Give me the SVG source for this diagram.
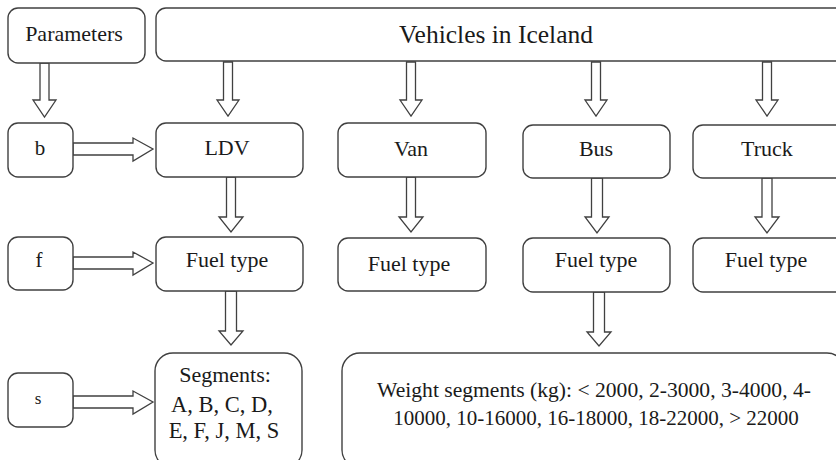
<svg xmlns="http://www.w3.org/2000/svg" width="836" height="460" viewBox="0 0 836 460">
<style>
.box{fill:#fff;stroke:#404040;stroke-width:1.4}
.arr{fill:#fff;stroke:#404040;stroke-width:1.3;stroke-linejoin:miter}
.t{font-family:'Liberation Serif', serif;fill:#1a1a1a;text-anchor:middle;font-size:22px}
</style>
<rect width="836" height="460" fill="#fff"/>
<g id="connectors">
<path class="arr" d="M40,63 V100 H33 L44.5,117 L56,100 H49 V63 Z"/>
<path class="arr" d="M223.5,62 V100 H217 L228,116 L239,100 H232.5 V62 Z"/>
<path class="arr" d="M406.5,62 V100 H400 L411,116 L422,100 H415.5 V62 Z"/>
<path class="arr" d="M591.5,62 V100 H585 L596,116 L607,100 H600.5 V62 Z"/>
<path class="arr" d="M762.5,62 V100 H756 L767,116 L778,100 H771.5 V62 Z"/>
<path class="arr" d="M226.5,177 V217 H219 L231,232 L243,217 H235.5 V177 Z"/>
<path class="arr" d="M406.5,177 V217 H399 L411,232 L423,217 H415.5 V177 Z"/>
<path class="arr" d="M591.5,178 V217 H585 L597,233 L609,217 H602.5 V178 Z"/>
<path class="arr" d="M762,178 V217 H755 L767,233 L779,217 H772 V178 Z"/>
<path class="arr" d="M225.5,291 V331 H219 L231,345 L243,331 H236.5 V291 Z"/>
<path class="arr" d="M593.5,292 V332 H587 L599,346 L611,332 H604.5 V292 Z"/>
<path class="arr" d="M73,143 H133 V138 L153,149 L133,161 V155 H73 Z"/>
<path class="arr" d="M73,257 H133 V252 L153,263 L133,275 V269 H73 Z"/>
<path class="arr" d="M73,396 H133 V391 L153,402 L133,414 V408 H73 Z"/>
</g>
<g id="parameters"><rect class="box" x="8" y="8" width="137" height="55" rx="10"/><text class="t" x="74" y="41">Parameters</text></g>
<g id="vehicles"><rect class="box" x="156" y="8" width="690" height="53" rx="10"/><text class="t" x="496" y="43" style="font-size:25.5px">Vehicles in Iceland</text></g>
<g id="b"><rect class="box" x="8" y="123" width="65" height="54" rx="10"/><text class="t" x="40" y="155" style="font-size:21px">b</text></g>
<g id="ldv"><rect class="box" x="156" y="123" width="147" height="54" rx="10"/><text class="t" x="227" y="155">LDV</text></g>
<g id="van"><rect class="box" x="338" y="123" width="148" height="54" rx="10"/><text class="t" x="411" y="156">Van</text></g>
<g id="bus"><rect class="box" x="523" y="125" width="147" height="53" rx="10"/><text class="t" x="596" y="156">Bus</text></g>
<g id="truck"><rect class="box" x="693" y="125" width="153" height="53" rx="10"/><text class="t" x="767" y="156">Truck</text></g>
<g id="f"><rect class="box" x="8" y="237" width="65" height="53" rx="10"/><text class="t" x="39" y="267" style="font-size:21px">f</text></g>
<g id="ldv-fuel"><rect class="box" x="156" y="237" width="147" height="54" rx="10"/><text class="t" x="227" y="267">Fuel type</text></g>
<g id="van-fuel"><rect class="box" x="338" y="238" width="148" height="53" rx="10"/><text class="t" x="409" y="271">Fuel type</text></g>
<g id="bus-fuel"><rect class="box" x="523" y="238" width="147" height="54" rx="10"/><text class="t" x="596" y="267">Fuel type</text></g>
<g id="truck-fuel"><rect class="box" x="693" y="238" width="153" height="54" rx="10"/><text class="t" x="766" y="267">Fuel type</text></g>
<g id="s"><rect class="box" x="8" y="373" width="65" height="54" rx="10"/><text class="t" x="38" y="404" style="font-size:17px">s</text></g>
<g id="segments"><rect class="box" x="155" y="353" width="147" height="115" rx="18"/>
<text class="t" x="225" y="382">Segments:</text><text class="t" x="222" y="412" style="font-size:22.5px">A, B, C, D,</text><text class="t" x="224" y="438" style="font-size:22.5px">E, F, J, M, S</text></g>
<g id="weight"><rect class="box" x="342" y="353" width="503" height="115" rx="18"/>
<text class="t" x="594" y="397" style="font-size:21.6px">Weight segments (kg): &lt; 2000, 2-3000, 3-4000, 4-</text>
<text class="t" x="596" y="425" style="font-size:21px">10000, 10-16000, 16-18000, 18-22000, &gt; 22000</text></g>
</svg>
